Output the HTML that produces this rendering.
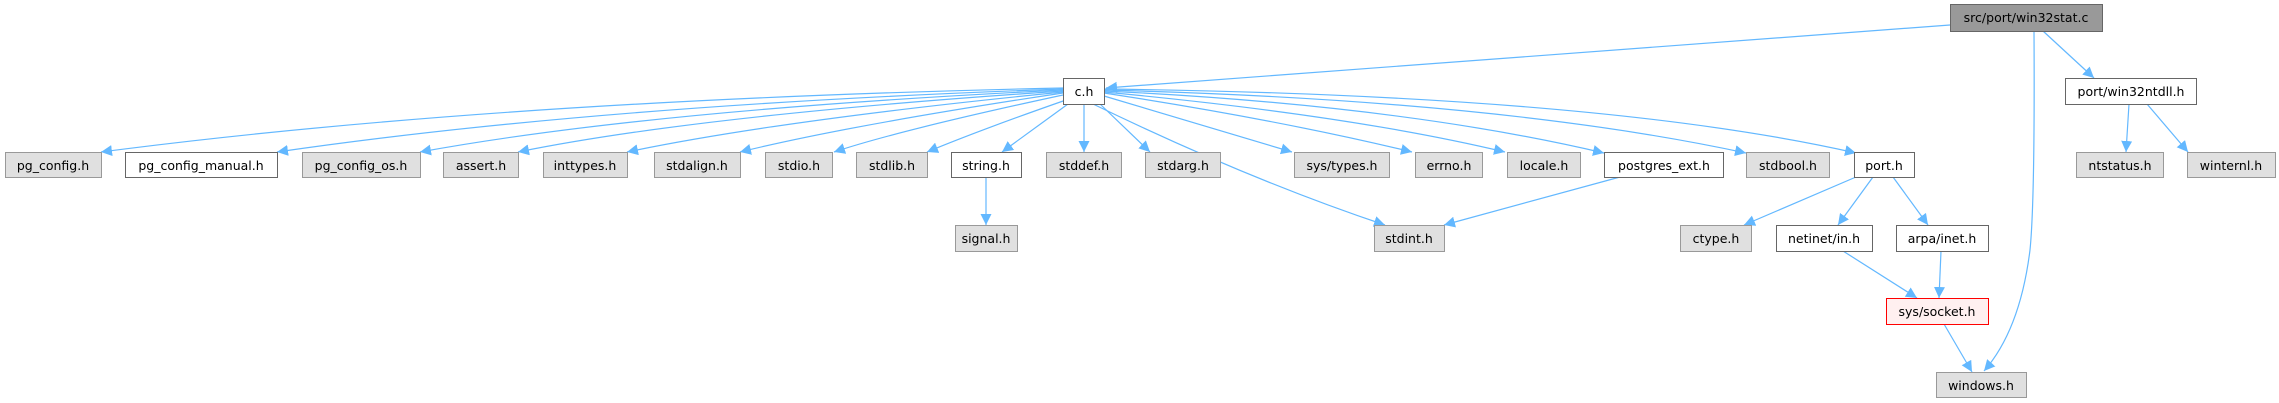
<!DOCTYPE html>
<html><head><meta charset="utf-8"><style>
html,body{margin:0;padding:0;background:#fff;width:2279px;height:403px;overflow:hidden}
svg text{font-family:"DejaVu Sans","Liberation Sans",sans-serif;font-size:12.5px;fill:#000;text-anchor:middle}
.g{fill:#e0e0e0;stroke:#999}
.w{fill:#fff;stroke:#666}
.e{fill:none;stroke:#63b8ff;stroke-width:1.2}
</style></head><body>
<svg width="2279" height="403" viewBox="0 0 2279 403" xmlns="http://www.w3.org/2000/svg">
<defs><marker id="a" viewBox="0 0 10 10" refX="10" refY="5" markerWidth="11" markerHeight="11" markerUnits="userSpaceOnUse" orient="auto"><path d="M0,0 L10,5 L0,10 z" fill="#63b8ff"/></marker></defs>
<g marker-end="url(#a)">
<path class="e" d="M1950,25 Q1500,60 1106,88"/>
<path class="e" d="M2034,31 Q2035,200 2030,250 Q2020,330 1984,371"/>
<path class="e" d="M2043,31 L2094,78"/>
<path class="e" d="M2129,104 L2126,152"/>
<path class="e" d="M2147,104 L2188,152"/>
<path class="e" d="M1063,88 Q500,100 101,152"/>
<path class="e" d="M1063,89 Q600,105 277,152"/>
<path class="e" d="M1063,90 Q650,110 420,152"/>
<path class="e" d="M1063,91 Q700,115 518,152"/>
<path class="e" d="M1063,92 Q780,120 627,152"/>
<path class="e" d="M1063,93 Q850,125 740,152"/>
<path class="e" d="M1063,95 Q900,130 834,152"/>
<path class="e" d="M1066,100 Q980,130 927,152"/>
<path class="e" d="M1068,104 L1002,152"/>
<path class="e" d="M1084,104 L1084,152"/>
<path class="e" d="M1100,104 L1150,152"/>
<path class="e" d="M1093,104 Q1250,180 1385,225"/>
<path class="e" d="M1104,96 Q1200,125 1292,152"/>
<path class="e" d="M1104,93 Q1280,120 1412,152"/>
<path class="e" d="M1104,92 Q1350,115 1505,152"/>
<path class="e" d="M1104,91 Q1400,105 1604,153"/>
<path class="e" d="M1104,90 Q1500,100 1746,153"/>
<path class="e" d="M1104,89 Q1600,95 1856,153"/>
<path class="e" d="M986,177 L986,225"/>
<path class="e" d="M1620,177 L1444,225"/>
<path class="e" d="M1856,177 L1744,225"/>
<path class="e" d="M1873,177 L1838,225"/>
<path class="e" d="M1893,177 L1928,225"/>
<path class="e" d="M1843,251 L1917,298"/>
<path class="e" d="M1941,251 L1939,298"/>
<path class="e" d="M1944,324 L1972,372"/>
</g>
<rect x="1950.5" y="4.5" width="152" height="27" fill="#999" stroke="#666"/><text x="2026" y="22">src/port/win32stat.c</text>
<rect class="w" x="1063.5" y="78.5" width="41" height="26"/><text x="1084" y="96">c.h</text>
<rect class="w" x="2065.5" y="78.5" width="131" height="26"/><text x="2131" y="96">port/win32ntdll.h</text>
<rect class="g" x="5.5" y="152.5" width="96" height="25"/><text x="53" y="170">pg_config.h</text>
<rect class="w" x="125.5" y="152.5" width="152" height="25"/><text x="201" y="170">pg_config_manual.h</text>
<rect class="g" x="302.5" y="152.5" width="118" height="25"/><text x="361" y="170">pg_config_os.h</text>
<rect class="g" x="443.5" y="152.5" width="75" height="25"/><text x="481" y="170">assert.h</text>
<rect class="g" x="543.5" y="152.5" width="84" height="25"/><text x="585" y="170">inttypes.h</text>
<rect class="g" x="654.5" y="152.5" width="86" height="25"/><text x="697" y="170">stdalign.h</text>
<rect class="g" x="765.5" y="152.5" width="67" height="25"/><text x="799" y="170">stdio.h</text>
<rect class="g" x="856.5" y="152.5" width="71" height="25"/><text x="892" y="170">stdlib.h</text>
<rect class="w" x="951.5" y="152.5" width="70" height="25"/><text x="986" y="170">string.h</text>
<rect class="g" x="1046.5" y="152.5" width="75" height="25"/><text x="1084" y="170">stddef.h</text>
<rect class="g" x="1145.5" y="152.5" width="75" height="25"/><text x="1183" y="170">stdarg.h</text>
<rect class="g" x="1294.5" y="152.5" width="95" height="25"/><text x="1342" y="170">sys/types.h</text>
<rect class="g" x="1415.5" y="152.5" width="67" height="25"/><text x="1449" y="170">errno.h</text>
<rect class="g" x="1507.5" y="152.5" width="73" height="25"/><text x="1544" y="170">locale.h</text>
<rect class="w" x="1604.5" y="152.5" width="119" height="25"/><text x="1664" y="170">postgres_ext.h</text>
<rect class="g" x="1746.5" y="152.5" width="83" height="25"/><text x="1788" y="170">stdbool.h</text>
<rect class="w" x="1854.5" y="152.5" width="60" height="25"/><text x="1884" y="170">port.h</text>
<rect class="g" x="2076.5" y="152.5" width="87" height="25"/><text x="2120" y="170">ntstatus.h</text>
<rect class="g" x="2187.5" y="152.5" width="88" height="25"/><text x="2231" y="170">winternl.h</text>
<rect class="g" x="955.5" y="225.5" width="62" height="26"/><text x="986" y="243">signal.h</text>
<rect class="g" x="1374.5" y="225.5" width="70" height="26"/><text x="1409" y="243">stdint.h</text>
<rect class="g" x="1680.5" y="225.5" width="71" height="26"/><text x="1716" y="243">ctype.h</text>
<rect class="w" x="1776.5" y="225.5" width="96" height="26"/><text x="1824" y="243">netinet/in.h</text>
<rect class="w" x="1896.5" y="225.5" width="92" height="26"/><text x="1942" y="243">arpa/inet.h</text>
<rect x="1886.5" y="298.5" width="102" height="26" fill="#fff0f0" stroke="#f00"/><text x="1937" y="316">sys/socket.h</text>
<rect class="g" x="1936.5" y="372.5" width="90" height="25"/><text x="1981" y="390">windows.h</text>
</svg>
</body></html>
